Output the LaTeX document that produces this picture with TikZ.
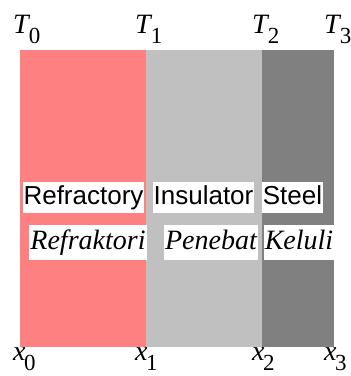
\documentclass[tikz,border=0pt]{standalone}
\usepackage{fontspec}
\setmainfont{Liberation Serif}
\newfontfamily\arialfont{Liberation Sans}
\usepackage{xcolor}
\definecolor{refr}{HTML}{FF8080}
\definecolor{insu}{HTML}{C0C0C0}
\definecolor{steel}{HTML}{808080}
\usepackage{tikz}
\usetikzlibrary{positioning}
% subscript index, set large and low as in the drawing
\newcommand{\lowidx}[1]{\kern-1.5pt\raisebox{-10.5pt}{\fontsize{23}{23}\selectfont #1}}

\tikzset{
  engname/.style={fill=white,inner xsep=1pt,inner ysep=3pt,anchor=base,
    font=\arialfont\fontsize{26}{28}\selectfont,text height=19pt,text depth=6pt},
  malname/.style={fill=white,inner xsep=1pt,inner ysep=4pt,anchor=base,
    font=\itshape\fontsize{28}{30}\selectfont,text height=20pt,text depth=7pt},
  bound/.style={inner sep=0pt,anchor=base west,font=\fontsize{28}{30}\selectfont}
}

\begin{document}
\begin{tikzpicture}[x=1pt,y=-1pt]
  \useasboundingbox (0,0) rectangle (351,376);
  % the three layers of the wall
  \foreach \xa/\xb/\col in {20/146/refr, 146/262/insu, 262/334/steel} {
    \fill[\col] (\xa,50) rectangle (\xb,347);
  }
  % temperatures on top, positions below
  \foreach \i/\xp in {0/13, 1/135, 2/252, 3/324} {
    \node[bound] (T\i) at (\xp,33) {\textit{T}\lowidx{\i}};
    \node[bound] (x\i) at (\xp,360) {\textit{x}\lowidx{\i}};
  }
  % material names
  \node[engname] (refr) at (83.5,204) {Refractory};
  \node[engname] (insu) at (203.5,204) {Insulator};
  \node[engname] (steel) at (292.5,204) {Steel};
  \node[malname] (refrm) at (88,249) {Refraktori};
  \node[malname] (insum) at (211,249) {Penebat};
  \node[malname] (steelm) at (299,249) {Keluli};
\end{tikzpicture}
\end{document}
